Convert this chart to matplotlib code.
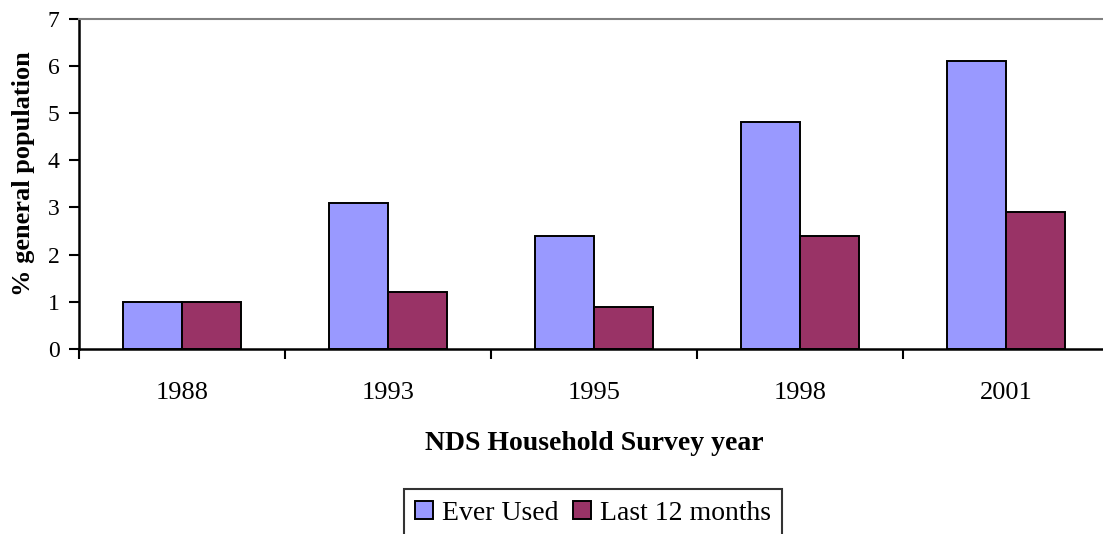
import numpy as np
import matplotlib.pyplot as plt

years = ["1988", "1993", "1995", "1998", "2001"]
ever_used = [1.0, 3.1, 2.4, 4.8, 6.1]
last_12 = [1.0, 1.2, 0.9, 2.4, 2.9]

plt.rcParams['font.family'] = ['Liberation Serif', 'DejaVu Serif']

fig = plt.figure(figsize=(11.03, 5.34), dpi=100)
ax = fig.add_axes([79 / 1103, 1 - 349 / 534, 1030 / 1103, (349 - 18.5) / 534])

x = np.arange(len(years))
w = 0.286
ax.bar(x - w / 2, ever_used, w, color="#9999FF", edgecolor="black", linewidth=1.4, label="Ever Used")
ax.bar(x + w / 2, last_12, w, color="#993366", edgecolor="black", linewidth=1.4, label="Last 12 months")

ax.set_xlim(-0.5, len(years) - 0.5)
ax.set_ylim(0, 7)
ax.set_yticks(range(8))
ax.set_xticks(x)
ax.set_xticklabels(years, fontsize=19)
ax.set_xticks(np.arange(len(years) + 1) - 0.5, minor=True)
ax.tick_params(axis='x', which='major', length=0, pad=24)
ax.tick_params(axis='x', which='minor', length=7, width=1.5, direction='out')
ax.tick_params(axis='y', length=7, width=1.5, labelsize=17, pad=7)

ax.spines['right'].set_visible(False)
ax.spines['top'].set_color('#808080')
ax.spines['top'].set_linewidth(1.5)
ax.spines['left'].set_linewidth(1.8)
ax.spines['bottom'].set_linewidth(1.8)

ax.set_ylabel("% general population", fontsize=19, fontweight='bold')
ax.yaxis.set_label_coords(-0.0427, 0.531)
ax.set_xlabel("NDS Household Survey year", fontsize=20, fontweight='bold', labelpad=19)

leg = fig.legend(loc='upper center', bbox_to_anchor=(593 / 1103, 1 - 489 / 534), ncol=2, fontsize=20,
                 frameon=True, fancybox=False, edgecolor='black', handlelength=0.65, handleheight=0.65,
                 handletextpad=0.3, columnspacing=0.55, borderpad=0.42, borderaxespad=0)
leg.get_frame().set_linewidth(1.5)

fig.savefig("out.png", dpi=100)
